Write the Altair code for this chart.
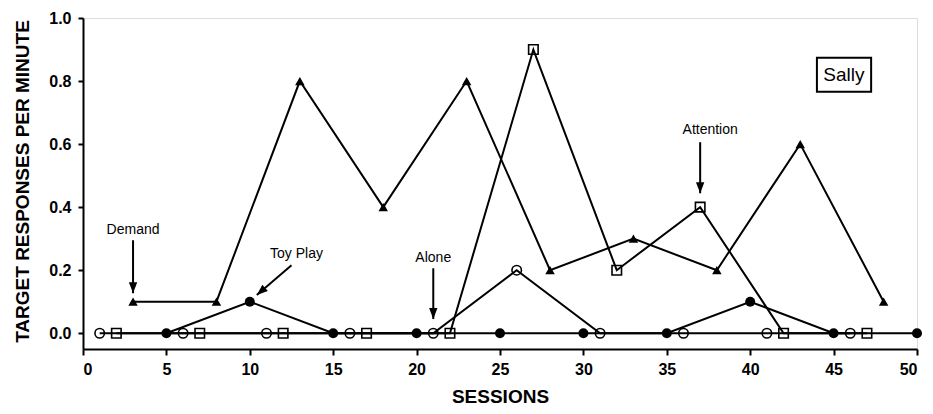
import altair as alt
import pandas as pd

# ---- data ----
demand_sessions = [3, 8, 13, 18, 23, 28, 33, 38, 43, 48]
demand_values = [0.1, 0.1, 0.8, 0.4, 0.8, 0.2, 0.3, 0.2, 0.6, 0.1]
toy_sessions = [5, 10, 15, 20, 25, 30, 35, 40, 45, 50]
toy_values = [0, 0.1, 0, 0, 0, 0, 0, 0.1, 0, 0]
alone_sessions = [1, 6, 11, 16, 21, 26, 31, 36, 41, 46]
alone_values = [0, 0, 0, 0, 0, 0.2, 0, 0, 0, 0]
attention_sessions = [2, 7, 12, 17, 22, 27, 32, 37, 42, 47]
attention_values = [0, 0, 0, 0, 0, 0.9, 0.2, 0.4, 0, 0]

# annotation labels and arrows (data coordinates)
ann_labels = ["Demand", "Toy Play", "Alone", "Attention"]
ann_label_x = [3.0, 12.8, 21.0, 37.6]
ann_label_y = [0.327, 0.251, 0.238, 0.644]
arrow_x1 = [3.0, 12.5, 21.0, 37.0]
arrow_y1 = [0.295, 0.216, 0.206, 0.606]
arrow_x2 = [3.0, 10.42, 21.0, 37.0]
arrow_y2 = [0.127, 0.121, 0.045, 0.444]
arrow_angle = [0, 49, 0, 0]

box_label = ["Sally"]
x_ticks = [0, 5, 10, 15, 20, 25, 30, 35, 40, 45, 50]
y_ticks = [0.0, 0.2, 0.4, 0.6, 0.8, 1.0]

FONT = "Liberation Sans"

rows = []
for name, ss, vv in [("Demand", demand_sessions, demand_values),
                     ("Toy Play", toy_sessions, toy_values),
                     ("Alone", alone_sessions, alone_values),
                     ("Attention", attention_sessions, attention_values)]:
    for s, v in zip(ss, vv):
        rows.append({"session": s, "value": v, "cond": name})
df = pd.DataFrame(rows)

ann = pd.DataFrame({"label": ann_labels, "lx": ann_label_x, "ly": ann_label_y,
                    "x1": arrow_x1, "y1": arrow_y1, "x2": arrow_x2, "y2": arrow_y2,
                    "angle": arrow_angle})
box = pd.DataFrame({"label": box_label, "bx1": [44.0], "bx2": [47.25],
                    "by1": [0.766], "by2": [0.874], "tx": [45.62], "ty": [0.82]})

xscale = alt.Scale(domain=[0, 50], nice=False, zero=False)
yscale = alt.Scale(domain=[-0.05, 1.0], nice=False, zero=False)

xaxis = alt.Axis(values=x_ticks, title="SESSIONS", labelFontSize=16, labelFontWeight="bold",
                 labelFont=FONT, titleFont=FONT, titleFontSize=19, titleFontWeight="bold",
                 titleY=47, titleBaseline="middle", tickSize=6, labelPadding=6,
                 domainWidth=2, tickWidth=2, domainColor="black", tickColor="black",
                 labelColor="black", titleColor="black", grid=False)
yaxis = alt.Axis(values=y_ticks, format=".1f", title="TARGET RESPONSES PER MINUTE",
                 labelFontSize=16, labelFontWeight="bold", labelFont=FONT, titleFont=FONT,
                 titleFontSize=19, titleFontWeight="bold", titleX=-61, titleY=163,
                 titleAngle=270, titleAlign="center", titleBaseline="middle",
                 tickSize=5, labelPadding=7, domainWidth=2, tickWidth=2,
                 domainColor="black", tickColor="black", labelColor="black",
                 titleColor="black", grid=False)

base = alt.Chart(df)
X = alt.X("session:Q", scale=xscale, axis=xaxis)
Y = alt.Y("value:Q", scale=yscale, axis=yaxis)

lines = base.mark_line(color="black", strokeWidth=2).encode(x=X, y=Y, detail="cond:N")

def pts(cond, **kw):
    return base.transform_filter(alt.datum.cond == cond).mark_point(color="black", **kw).encode(
        x=alt.X("session:Q", scale=xscale), y=alt.Y("value:Q", scale=yscale))

p_demand = pts("Demand", shape="triangle-up", filled=True, size=90, opacity=1)
p_toy = pts("Toy Play", shape="circle", filled=True, size=100, opacity=1)
p_alone = pts("Alone", shape="circle", filled=False, size=90, strokeWidth=1.6, opacity=1)
p_att = pts("Attention", shape="square", filled=False, size=90, strokeWidth=1.6, opacity=1)

a = alt.Chart(ann)
shafts = a.mark_rule(color="black", strokeWidth=2).encode(
    x=alt.X("x1:Q", scale=xscale), y=alt.Y("y1:Q", scale=yscale), x2="x2:Q", y2="y2:Q")
heads = a.mark_point(shape="M0,0L-0.38,-1L0.38,-1Z", filled=True, color="black",
                     size=484, opacity=1).encode(
    x=alt.X("x2:Q", scale=xscale), y=alt.Y("y2:Q", scale=yscale),
    angle=alt.Angle("angle:Q", scale=None))
labels = a.mark_text(font=FONT, fontSize=14, color="black").encode(
    x=alt.X("lx:Q", scale=xscale), y=alt.Y("ly:Q", scale=yscale), text="label:N")

b = alt.Chart(box)
rect = b.mark_rect(fill="white", stroke="black", strokeWidth=2).encode(
    x=alt.X("bx1:Q", scale=xscale), x2="bx2:Q", y=alt.Y("by1:Q", scale=yscale), y2="by2:Q")
btext = b.mark_text(font=FONT, fontSize=19, color="black").encode(
    x=alt.X("tx:Q", scale=xscale), y=alt.Y("ty:Q", scale=yscale), text="label:N")

chart = alt.layer(lines, p_demand, p_toy, p_alone, p_att, shafts, heads, labels, rect, btext).properties(
    width=834, height=331,
    padding={"left": 75, "top": 10, "right": 8, "bottom": 57},
    autosize=alt.AutoSizeParams(type="none"),
).configure_view(stroke=None).configure(background="white")

chart.save("out.html", embed_options={"renderer": "svg", "actions": False})
